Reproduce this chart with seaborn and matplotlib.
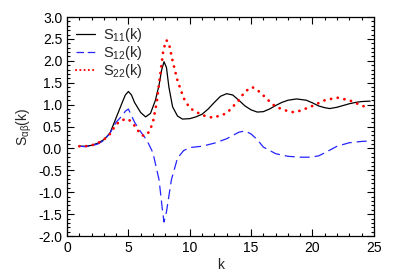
import numpy as np
import pandas as pd
import matplotlib
matplotlib.use("Agg")
import matplotlib.pyplot as plt
from matplotlib.ticker import MultipleLocator
from matplotlib.lines import Line2D
import seaborn as sns

k11 = [1, 1.5, 2, 2.5, 3, 3.5, 4, 4.5, 4.75, 5, 5.25, 5.5, 6, 6.4, 6.8, 7.2, 7.5, 7.7, 7.9, 8.1, 8.3, 8.6, 9, 9.4, 10, 10.5, 11, 11.5, 12, 12.5, 13, 13.5, 14, 14.5, 15, 15.5, 16, 16.5, 17, 17.5, 18, 18.7, 19.5, 20, 20.5, 21, 21.4, 22, 22.5, 23, 23.5, 24, 24.7]
s11 = [0.05, 0.05, 0.07, 0.12, 0.2, 0.35, 0.7, 1.05, 1.22, 1.3, 1.22, 1.05, 0.82, 0.72, 0.8, 1.1, 1.45, 1.78, 1.98, 1.85, 1.4, 0.95, 0.74, 0.67, 0.68, 0.72, 0.78, 0.9, 1.05, 1.19, 1.25, 1.22, 1.1, 0.97, 0.88, 0.83, 0.84, 0.9, 0.98, 1.05, 1.1, 1.13, 1.1, 1.04, 0.97, 0.93, 0.91, 0.94, 0.98, 1.02, 1.05, 1.07, 1.08]

k12 = [1, 1.5, 2, 2.5, 3, 3.5, 4, 4.5, 4.75, 5, 5.25, 5.5, 6, 6.5, 7, 7.5, 7.75, 7.9, 8.1, 8.5, 9, 9.5, 10, 11, 12, 13, 14, 14.5, 15, 15.5, 16, 17, 18, 19, 19.8, 20.5, 21, 22, 23, 24, 24.7]
s12 = [0.05, 0.04, 0.06, 0.1, 0.18, 0.35, 0.6, 0.75, 0.85, 0.9, 0.75, 0.6, 0.38, 0.19, -0.1, -0.72, -1.35, -1.68, -1.45, -0.72, -0.22, -0.05, 0.02, 0.05, 0.12, 0.22, 0.37, 0.4, 0.33, 0.2, 0.03, -0.12, -0.18, -0.2, -0.2, -0.17, -0.1, 0.05, 0.13, 0.16, 0.17]

k22 = [1, 1.5, 2, 2.5, 3, 3.5, 4, 4.5, 5, 5.5, 6, 6.3, 6.7, 7, 7.3, 7.6, 7.85, 8.1, 8.3, 8.6, 9, 9.5, 10, 11, 11.9, 13, 14, 14.5, 15.1, 15.7, 16.4, 17, 18, 18.4, 19, 20, 21, 22, 23, 24, 24.6]
s22 = [0.05, 0.05, 0.07, 0.12, 0.2, 0.33, 0.55, 0.65, 0.67, 0.52, 0.32, 0.28, 0.38, 0.6, 1.04, 1.7, 2.25, 2.47, 2.4, 2.0, 1.55, 1.15, 0.92, 0.76, 0.7, 0.8, 1.1, 1.3, 1.4, 1.29, 1.1, 0.95, 0.85, 0.83, 0.86, 0.97, 1.1, 1.16, 1.1, 0.98, 0.92]

sns.set_theme(style="ticks")
plt.rcParams['font.family'] = ['Liberation Sans', 'DejaVu Sans']
plt.rcParams['mathtext.fontset'] = 'custom'
plt.rcParams['mathtext.rm'] = 'Liberation Sans'
plt.rcParams['mathtext.it'] = 'Liberation Sans:italic'
plt.rcParams['mathtext.default'] = 'regular'

fig = plt.figure(figsize=(3.99, 2.79), dpi=100)
ax = fig.add_axes([0.168, 0.154, 0.769, 0.785])

d11 = pd.DataFrame({"k": k11, "S": s11})
d12 = pd.DataFrame({"k": k12, "S": s12})
d22 = pd.DataFrame({"k": k22, "S": s22})

sns.lineplot(data=d11, x="k", y="S", ax=ax, color="black", lw=0.9, legend=False)
sns.lineplot(data=d12, x="k", y="S", ax=ax, color="#2424ff", lw=0.9, legend=False)
sns.lineplot(data=d22, x="k", y="S", ax=ax, color="red", lw=2.0, legend=False)
ax.lines[1].set_linestyle((0, (8, 4)))
ax.lines[2].set_linestyle((0, (0.05, 2.4)))
ax.lines[2].set_dash_capstyle('round')

ax.set_xlim(0, 25)
ax.set_ylim(-2, 3)
ax.xaxis.set_major_locator(MultipleLocator(5))
ax.xaxis.set_minor_locator(MultipleLocator(1))
ax.yaxis.set_major_locator(MultipleLocator(0.5))
ax.yaxis.set_minor_locator(MultipleLocator(0.1))
ax.yaxis.set_major_formatter(matplotlib.ticker.FormatStrFormatter('%.1f'))
ax.tick_params(which='both', direction='in', top=True, right=True, labelsize=10, colors='black', width=0.8)
ax.tick_params(which='major', length=5)
ax.tick_params(which='minor', length=2.5)
for s in ax.spines.values():
    s.set_linewidth(0.9)
    s.set_color('black')
ax.set_xlabel("k", fontsize=10, labelpad=2)
ax.set_ylabel(r"S$_{\alpha\beta}$(k)", fontsize=10, labelpad=3)

handles = [
    Line2D([], [], color="black", lw=0.9),
    Line2D([], [], color="#2424ff", lw=0.9, ls=(0, (6, 3))),
    Line2D([], [], color="red", lw=1.5, ls=(0, (0.05, 2.0)), dash_capstyle='round'),
]
labels = [r"S$_{11}$(k)", r"S$_{12}$(k)", r"S$_{22}$(k)"]
leg = ax.legend(handles, labels, loc='upper left', frameon=False, fontsize=10.5, handlelength=1.35,
                borderaxespad=0.2, labelspacing=0.0, handletextpad=0.55,
                bbox_to_anchor=(0.0, 1.0))

fig.savefig("out.png", dpi=100)
